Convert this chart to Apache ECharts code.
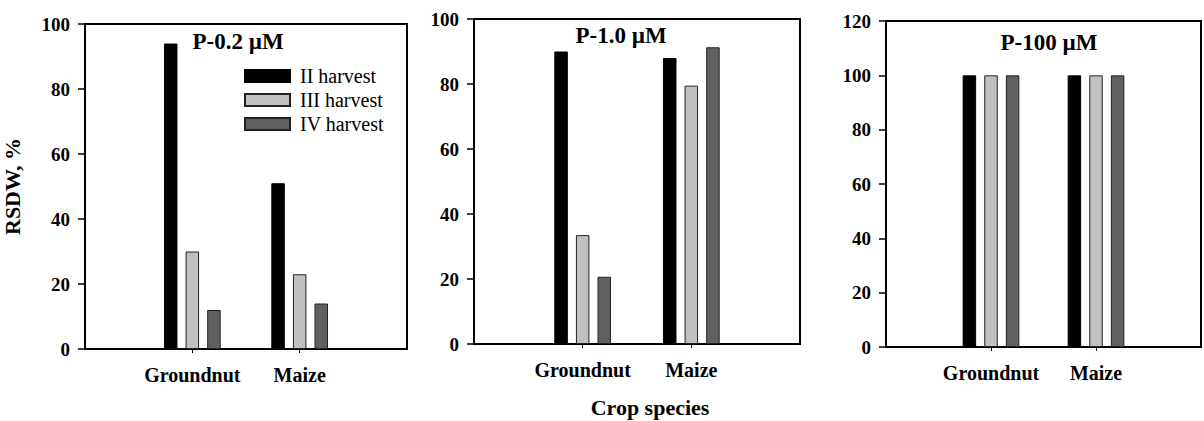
<!DOCTYPE html>
<html>
<head>
<meta charset="utf-8">
<script src="https://cdn.jsdelivr.net/npm/echarts@6/dist/echarts.min.js"></script>
<style>
html,body{margin:0;padding:0;background:#fff;}
#chart{width:1204px;height:421px;}
</style>
</head>
<body>
<div id="chart"></div>
<script>
// ---- data ----
var categories = ['Groundnut', 'Maize'];
var seriesNames = ['II harvest', 'III harvest', 'IV harvest'];
var panelTitles = ['P-0.2 \u00B5M', 'P-1.0 \u00B5M', 'P-100 \u00B5M'];
var yMaxes = [100, 100, 120];

var p02_II = [94, 51];
var p02_III = [30, 23];
var p02_IV = [12, 14];

var p10_II = [90, 88];
var p10_III = [33.5, 79.5];
var p10_IV = [20.7, 91.3];

var p100_II = [100, 100];
var p100_III = [100, 100];
var p100_IV = [100, 100];

var panelData = [
  [p02_II, p02_III, p02_IV],
  [p10_II, p10_III, p10_IV],
  [p100_II, p100_III, p100_IV]
];

// ---- styling ----
var FONT = '"Liberation Serif", "Times New Roman", serif';
var fills = ['#000000', '#c0c0c0', '#606060'];
var borders = ['#000000', '#222222', '#222222'];
var grids = [
  {left: 84, top: 24, right: 797, bottom: 72},
  {left: 474, top: 19, right: 404, bottom: 77},
  {left: 886, top: 21, right: -7, bottom: 74}
];
var titlePos = [[238, 41], [621, 35], [1049, 42]];

var paddedCats = [''].concat(categories).concat(['']);

var option = {
  animation: false,
  backgroundColor: '#ffffff',
  grid: grids.map(function (g) {
    return Object.assign({show: true, borderColor: '#000', borderWidth: 2, backgroundColor: 'transparent'}, g);
  }),
  legend: {
    data: seriesNames,
    orient: 'vertical',
    left: 244,
    top: 66,
    padding: 0,
    itemWidth: 45,
    itemHeight: 12,
    itemGap: 4,
    icon: 'rect',
    textStyle: {fontFamily: FONT, fontSize: 20, color: '#000', padding: [0, 0, 0, 5]}
  },
  xAxis: grids.map(function (g, i) {
    return {
      type: 'category',
      gridIndex: i,
      data: paddedCats,
      boundaryGap: false,
      axisLine: {lineStyle: {color: '#000', width: 2}},
      axisTick: {
        length: 4,
        lineStyle: {color: '#000', width: 1},
        interval: function (idx) { return idx > 0 && idx < paddedCats.length - 1; }
      },
      axisLabel: {
        interval: 0,
        margin: 16,
        fontFamily: FONT,
        fontWeight: 'bold',
        fontSize: 20,
        color: '#000'
      },
      splitLine: {show: false}
    };
  }),
  yAxis: grids.map(function (g, i) {
    var ax = {
      type: 'value',
      gridIndex: i,
      min: 0,
      max: yMaxes[i],
      interval: 20,
      axisLine: {show: true, lineStyle: {color: '#000', width: 2}},
      axisTick: {show: true, length: 7, lineStyle: {color: '#000', width: 1.5}},
      axisLabel: {
        margin: 15,
        fontFamily: FONT,
        fontWeight: 'bold',
        fontSize: 19,
        color: '#000'
      },
      splitLine: {show: false}
    };
    if (i === 0) {
      ax.name = 'RSDW, %';
      ax.nameLocation = 'middle';
      ax.nameGap = 62;
      ax.nameTextStyle = {fontFamily: FONT, fontWeight: 'bold', fontSize: 22, color: '#000'};
    }
    return ax;
  }),
  series: [],
  graphic: []
};

panelData.forEach(function (panel, p) {
  panel.forEach(function (vals, s) {
    option.series.push({
      type: 'bar',
      name: seriesNames[s],
      xAxisIndex: p,
      yAxisIndex: p,
      barWidth: 13.5,
      barGap: '60%',
      data: ['-'].concat(vals).concat(['-']),
      itemStyle: {color: fills[s], borderColor: borders[s], borderWidth: 1}
    });
  });
  option.graphic.push({
    type: 'text',
    x: titlePos[p][0],
    y: titlePos[p][1],
    style: {
      text: panelTitles[p],
      font: 'bold 23px ' + FONT,
      fill: '#000',
      textAlign: 'center',
      textVerticalAlign: 'middle'
    }
  });
});

option.graphic.push({
  type: 'text',
  x: 650,
  y: 407,
  style: {
    text: 'Crop species',
    font: 'bold 22px ' + FONT,
    fill: '#000',
    textAlign: 'center',
    textVerticalAlign: 'middle'
  }
});

var chart = echarts.init(document.getElementById('chart'), null, {renderer: 'svg'});
chart.setOption(option);
</script>
</body>
</html>
